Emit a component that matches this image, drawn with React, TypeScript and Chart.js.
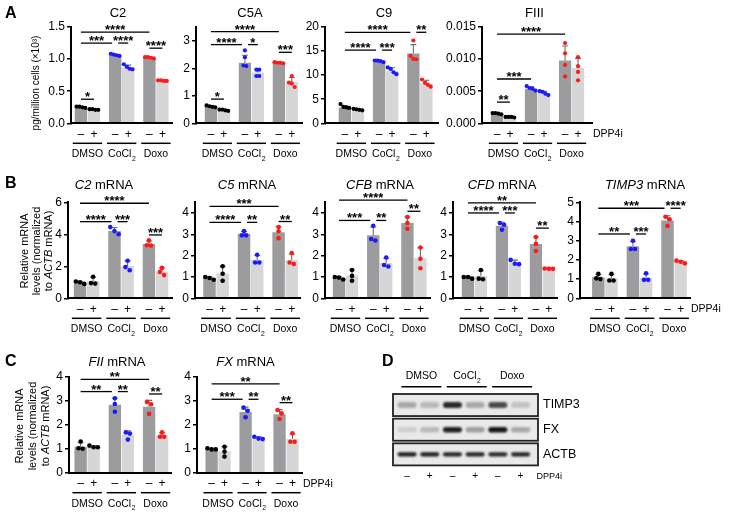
import React, { useEffect, useRef } from 'react';
import { Chart, registerables } from 'chart.js';

Chart.register(...registerables);

const W = 731;
const H = 518;
const FONT_FAMILY = '"Liberation Sans", Arial, Helvetica, sans-serif';

// ---------- shared labels ----------
const GROUP_NAMES = ['DMSO', 'CoCl', 'Doxo'];
const GROUP_SUBSCRIPTS = ['', '2', ''];
const TREATMENT_SIGNS = ['–', '+'];
const DRUG_LABEL = 'DPP4i';
const GROUP_POINT_COLORS = ['#000000', '#1a1aff', '#ff1a1a'];
const BAR_COLORS = ['#9c9c9e', '#d6d6d6'];
const ERR_COLOR = '#6e6e6e';

// ---------- Panel A ----------
const A_C2_YTICKS = [0, 0.5, 1.0, 1.5];
const A_C2_BARS = [0.25, 0.21, 1.05, 0.87, 1.02, 0.66];
const A_C2_POINTS = [
  [0.25, 0.26, 0.24, 0.26], [0.21, 0.22, 0.21, 0.22], [1.06, 1.08, 1.07, 1.05],
  [0.92, 0.88, 0.84, 0.85], [1.02, 1.03, 1.01, 1.03], [0.66, 0.67, 0.66, 0.67],
];
const A_C2_BRACKETS = [[0, 1, 0.375, '*'], [0, 2, 1.25, '***'], [2, 3, 1.25, '****'], [4, 5, 1.17, '****'], [0, 4, 1.42, '****']];

const A_C5A_YTICKS = [0, 1, 2, 3];
const A_C5A_BARS = [0.6, 0.48, 2.2, 1.85, 2.2, 1.5];
const A_C5A_POINTS = [
  [0.65, 0.58, 0.62, 0.6], [0.5, 0.47, 0.45, 0.5], [2.65, 2.4, 2.08, 2.1],
  [1.95, 1.95, 1.72, 1.72], [2.2, 2.22, 2.18, 2.2], [1.72, 1.48, 1.32, 1.45],
];
const A_C5A_BRACKETS = [[0, 1, 0.88, '*'], [0, 2, 2.86, '****'], [2, 3, 2.86, '*'], [4, 5, 2.58, '***'], [0, 4, 3.33, '****']];

const A_C9_YTICKS = [0, 5, 10, 15, 20];
const A_C9_BARS = [3.3, 2.8, 12.6, 10.9, 14.5, 8.3];
const A_C9_POINTS = [
  [4.0, 3.4, 3.2, 3.3], [3.0, 2.7, 2.8, 2.9], [12.7, 12.9, 13.0, 13.0],
  [11.6, 11.3, 10.6, 10.2], [17.2, 14.0, 13.4, 13.3], [9.1, 8.4, 8.0, 7.6],
];
const A_C9_BRACKETS = [[0, 2, 15.2, '****'], [2, 3, 15.2, '***'], [4, 5, 18.9, '**'], [0, 4, 18.9, '****']];

const A_FIII_YTICKS = [0, 0.005, 0.01, 0.015];
const A_FIII_BARS = [0.0015, 0.001, 0.0054, 0.0047, 0.0098, 0.0086];
const A_FIII_POINTS = [
  [0.0014, 0.0015, 0.0016, 0.0016], [0.001, 0.0009, 0.001, 0.001], [0.0051, 0.0054, 0.0055, 0.0058],
  [0.0044, 0.0046, 0.0049, 0.005], [0.0125, 0.0109, 0.0091, 0.0073], [0.0103, 0.0089, 0.008, 0.0067],
];
const A_FIII_BRACKETS = [[0, 1, 0.0033, '**'], [0, 2, 0.0069, '***'], [0, 4, 0.0139, '****']];

// ---------- Panel B ----------
const B_C2_YTICKS = [0, 2, 4, 6];
const B_C2_BARS = [0.98, 1.07, 4.2, 2.02, 3.4, 1.67];
const B_C2_POINTS = [[0.9, 1.05, 1.0], [0.92, 1.35, 0.95], [4.45, 4.2, 4.0], [2.35, 1.95, 1.75], [3.62, 3.32, 3.3], [1.9, 1.65, 1.45]];
const B_C2_BRACKETS = [[0, 2, 4.79, '****'], [2, 3, 4.79, '***'], [4, 5, 3.96, '***'], [0, 4, 5.94, '****']];

const B_C5_YTICKS = [0, 1, 2, 3, 4];
const B_C5_BARS = [0.94, 1.16, 3.02, 1.8, 3.1, 1.8];
const B_C5_POINTS = [[0.87, 1.0, 0.95], [1.5, 1.15, 0.82], [2.95, 3.15, 2.95], [2.04, 1.68, 1.68], [3.34, 3.14, 2.82], [2.12, 1.61, 1.68]];
const B_C5_BRACKETS = [[0, 2, 3.56, '****'], [2, 3, 3.56, '**'], [4, 5, 3.6, '**'], [0, 4, 4.31, '***']];

const B_CFB_YTICKS = [0, 1, 2, 3, 4];
const B_CFB_BARS = [0.95, 1.07, 2.96, 1.65, 3.53, 1.88];
const B_CFB_POINTS = [[0.88, 1.0, 0.97], [1.33, 1.05, 0.82], [3.4, 2.71, 2.78], [1.91, 1.49, 1.56], [3.81, 3.53, 3.26], [2.38, 1.85, 1.41]];
const B_CFB_BRACKETS = [[0, 2, 3.65, '***'], [2, 3, 3.65, '**'], [4, 5, 4.08, '**'], [0, 4, 4.6, '****']];

const B_CFD_YTICKS = [0, 1, 2, 3, 4];
const B_CFD_BARS = [0.97, 1.05, 3.4, 1.68, 2.55, 1.39];
const B_CFD_POINTS = [[0.92, 1.0, 1.0], [0.89, 1.33, 0.92], [3.53, 3.45, 3.21], [1.8, 1.6, 1.62], [2.87, 2.55, 2.22], [1.38, 1.4, 1.38]];
const B_CFD_BRACKETS = [[0, 2, 4.0, '****'], [2, 3, 4.0, '***'], [4, 5, 3.29, '**'], [0, 4, 4.47, '**']];

const B_TIMP3_YTICKS = [0, 1, 2, 3, 4, 5];
const B_TIMP3_BARS = [1.1, 1.04, 2.71, 1.07, 4.05, 1.88];
const B_TIMP3_POINTS = [[1.04, 1.27, 1.0], [0.93, 1.27, 0.93], [3.0, 2.57, 2.57], [1.3, 0.96, 0.96], [4.25, 4.12, 3.77], [1.82, 1.96, 1.9]];
const B_TIMP3_BRACKETS = [[0, 2, 3.35, '**'], [2, 3, 3.35, '***'], [4, 5, 4.69, '****'], [0, 4, 4.69, '***']];

// ---------- Panel C ----------
const C_FII_YTICKS = [0, 1, 2, 3, 4];
const C_FII_BARS = [1.08, 1.08, 2.83, 1.58, 2.75, 1.56];
const C_FII_POINTS = [[1.0, 1.3, 1.02], [1.06, 1.13, 1.06], [3.1, 2.86, 2.54], [1.68, 1.38, 1.63], [2.95, 2.85, 2.45], [1.5, 1.68, 1.5]];
const C_FII_BRACKETS = [[0, 2, 3.38, '**'], [2, 3, 3.38, '**'], [4, 5, 3.28, '**'], [0, 4, 3.89, '**']];

const C_FX_YTICKS = [0, 1, 2, 3, 4];
const C_FX_BARS = [0.99, 0.88, 2.53, 1.44, 2.44, 1.41];
const C_FX_POINTS = [[0.97, 1.02, 0.97], [1.08, 0.88, 0.67], [2.71, 2.58, 2.31], [1.4, 1.5, 1.42], [2.61, 2.47, 2.24], [1.29, 1.64, 1.29]];
const C_FX_BRACKETS = [[0, 2, 3.06, '***'], [2, 3, 3.06, '**'], [4, 5, 2.92, '**'], [0, 4, 3.7, '**']];

// ---------- Panel D (blot band intensities, 0..1) ----------
const BLOT_PROTEINS = ['TIMP3', 'FX', 'ACTB'];
const BLOT_TIMP3 = [0.3, 0.22, 0.9, 0.3, 0.75, 0.18];
const BLOT_FX = [0.12, 0.22, 0.95, 0.35, 1.0, 0.3];
const BLOT_ACTB = [0.95, 0.95, 0.92, 0.92, 0.9, 0.92];
const BLOT_ROWS = [BLOT_TIMP3, BLOT_FX, BLOT_ACTB];

// ---------- helpers ----------
type Seg = { t: string; i?: boolean };

function fnt(size: number, italic = false, bold = false) {
  return `${italic ? 'italic ' : ''}${bold ? 'bold ' : ''}${size}px ${FONT_FAMILY}`;
}
function segsWidth(ctx: any, segs: Seg[], size: number) {
  let w = 0;
  for (const s of segs) { ctx.font = fnt(size, s.i); w += ctx.measureText(s.t).width; }
  return w;
}
function drawSegsCentered(ctx: any, segs: Seg[], cx: number, cy: number, size: number) {
  let x = cx - segsWidth(ctx, segs, size) / 2;
  ctx.textAlign = 'left';
  ctx.textBaseline = 'middle';
  for (const s of segs) { ctx.font = fnt(size, s.i); ctx.fillText(s.t, x, cy); x += ctx.measureText(s.t).width; }
}
function drawGroupLabel(ctx: any, g: number, cx: number, cy: number, size: number) {
  ctx.font = fnt(size);
  const wm = ctx.measureText(GROUP_NAMES[g]).width;
  ctx.font = fnt(size * 0.65);
  const ws = GROUP_SUBSCRIPTS[g] ? ctx.measureText(GROUP_SUBSCRIPTS[g]).width : 0;
  const x0 = cx - (wm + ws) / 2;
  ctx.textAlign = 'left';
  ctx.textBaseline = 'middle';
  ctx.font = fnt(size);
  ctx.fillText(GROUP_NAMES[g], x0, cy);
  if (GROUP_SUBSCRIPTS[g]) { ctx.font = fnt(size * 0.65); ctx.fillText(GROUP_SUBSCRIPTS[g], x0 + wm + 0.5, cy + size * 0.42); }
}
function hline(ctx: any, x1: number, x2: number, y: number, lw: number) {
  ctx.lineWidth = lw;
  ctx.beginPath(); ctx.moveTo(x1, y); ctx.lineTo(x2, y); ctx.stroke();
}

interface PanelCfg {
  axisLeft: number; axisRight: number; top: number; bottom: number;
  xMin: number; xMax: number; yMax: number; yTicks: number[]; decimals: number;
  bars: number[]; points: number[][]; brackets: any[];
  title: Seg[]; titleX: number; titleY: number;
  yLabel?: Seg[][]; yLabelX?: number[]; yLabelY?: number; yLabelSize?: number;
  letter?: [string, number, number];
  drug?: boolean;
  dotR: number; dotGap: number;
}

const YW = 40;

function panelPlugin(cfg: PanelCfg) {
  const geom = (chart: any, k: number) => {
    const el: any = chart.getDatasetMeta(k % 2).data[Math.floor(k / 2)];
    return { x: el.x as number, w: el.width as number };
  };
  return {
    id: 'panelDecor',
    afterDatasetsDraw(chart: any) {
      const ctx = chart.ctx;
      const ys = chart.scales.y;
      ctx.save();
      for (let k = 0; k < cfg.bars.length; k++) {
        const { x } = geom(chart, k);
        const pts = cfg.points[k];
        const m = pts.reduce((a, b) => a + b, 0) / pts.length;
        const sd = Math.sqrt(pts.reduce((a, b) => a + (b - m) * (b - m), 0) / (pts.length - 1));
        const y0 = ys.getPixelForValue(cfg.bars[k]);
        const y1 = ys.getPixelForValue(cfg.bars[k] + sd);
        ctx.strokeStyle = ERR_COLOR;
        ctx.lineWidth = 1.1;
        ctx.beginPath(); ctx.moveTo(x, y0); ctx.lineTo(x, y1); ctx.moveTo(x - 3, y1); ctx.lineTo(x + 3, y1); ctx.stroke();
        const py = pts.map((v) => ys.getPixelForValue(v));
        const order = py.map((_, i) => i).sort((a, b) => py[a] - py[b]);
        const clusters: number[][] = [];
        for (const i of order) {
          const last = clusters[clusters.length - 1];
          if (last && py[i] - py[last[last.length - 1]] < 4) last.push(i); else clusters.push([i]);
        }
        ctx.fillStyle = GROUP_POINT_COLORS[Math.floor(k / 2)];
        for (const c of clusters) {
          c.forEach((i, j) => {
            const dx = (j - (c.length - 1) / 2) * cfg.dotGap;
            ctx.beginPath(); ctx.arc(x + dx, py[i], cfg.dotR, 0, Math.PI * 2); ctx.fill();
          });
        }
      }
      ctx.restore();
    },
    afterDraw(chart: any) {
      const ctx = chart.ctx;
      const ys = chart.scales.y;
      const area = chart.chartArea;
      ctx.save();
      ctx.fillStyle = '#000';
      ctx.strokeStyle = '#000';
      const tol = cfg.yMax * 0.01;
      for (const br of cfg.brackets) {
        const [a, b, v, label] = br;
        const y = ys.getPixelForValue(v);
        let x1 = geom(chart, a).x;
        let x2 = geom(chart, b).x;
        const shares = (k: number) => cfg.brackets.some((o: any) => o !== br && Math.abs(o[2] - v) < tol && (o[0] === k || o[1] === k));
        if (shares(a)) x1 += 3;
        if (shares(b)) x2 -= 3;
        hline(ctx, x1, x2, y, 1.3);
        ctx.font = fnt(13, false, true);
        ctx.textAlign = 'center';
        ctx.textBaseline = 'alphabetic';
        ctx.fillText(label, (x1 + x2) / 2, y + 2);
      }
      for (let k = 0; k < cfg.bars.length; k++) {
        const { x } = geom(chart, k);
        ctx.font = fnt(12);
        ctx.textAlign = 'center';
        ctx.textBaseline = 'middle';
        ctx.fillText(TREATMENT_SIGNS[k % 2], x, area.bottom + 11);
      }
      for (let g = 0; g < GROUP_NAMES.length; g++) {
        const l = geom(chart, 2 * g);
        const r = geom(chart, 2 * g + 1);
        hline(ctx, l.x - l.w / 2 - 2, r.x + r.w / 2 + 2, area.bottom + 20, 1.5);
        drawGroupLabel(ctx, g, (l.x + r.x) / 2, area.bottom + 31, 10.5);
      }
      if (cfg.drug) {
        ctx.font = fnt(10.5);
        ctx.textAlign = 'left';
        ctx.textBaseline = 'middle';
        ctx.fillText(DRUG_LABEL, area.right + 1, area.bottom + 11);
      }
      drawSegsCentered(ctx, cfg.title, cfg.titleX, cfg.titleY, 13);
      if (cfg.yLabel && cfg.yLabelX) {
        cfg.yLabel.forEach((line, i) => {
          ctx.save();
          ctx.translate(cfg.yLabelX![i], cfg.yLabelY!);
          ctx.rotate(-Math.PI / 2);
          drawSegsCentered(ctx, line, 0, 0, cfg.yLabelSize || 11);
          ctx.restore();
        });
      }
      if (cfg.letter) {
        ctx.font = fnt(16, false, true);
        ctx.textAlign = 'left';
        ctx.textBaseline = 'middle';
        ctx.fillText(cfg.letter[0], cfg.letter[1], cfg.letter[2]);
      }
      ctx.restore();
    },
  };
}

function makePanel(canvas: HTMLCanvasElement, cfg: PanelCfg) {
  return new Chart(canvas, {
    type: 'bar',
    data: {
      datasets: [0, 1].map((t) => ({
        data: GROUP_NAMES.map((_, g) => ({ x: g, y: cfg.bars[g * 2 + t] })),
        backgroundColor: BAR_COLORS[t],
        borderWidth: 0,
        categoryPercentage: 0.76,
        barPercentage: 0.95,
      })),
    } as any,
    options: {
      responsive: false,
      animation: false,
      devicePixelRatio: 1,
      events: [],
      layout: { padding: { left: cfg.axisLeft - YW, right: W - cfg.axisRight, top: cfg.top, bottom: H - cfg.bottom } },
      plugins: { legend: { display: false }, tooltip: { enabled: false }, title: { display: false } },
      scales: {
        x: {
          type: 'linear', min: cfg.xMin, max: cfg.xMax, offset: false, bounds: 'data',
          grid: { display: false }, ticks: { display: false },
          border: { display: true, color: '#000', width: 2, z: 1 },
          afterBuildTicks: (s: any) => { s.ticks = GROUP_NAMES.map((_, g) => ({ value: g })); },
          afterFit: (s: any) => { s.height = 0; },
        },
        y: {
          type: 'linear', min: 0, max: cfg.yMax, bounds: 'data',
          afterBuildTicks: (s: any) => { s.ticks = cfg.yTicks.map((v) => ({ value: v })); },
          ticks: {
            callback: (v: any) => Number(v).toFixed(cfg.decimals),
            font: { family: FONT_FAMILY, size: 12 }, color: '#000', padding: 2,
          },
          grid: { drawOnChartArea: false, drawTicks: true, tickLength: 4, color: '#000', lineWidth: 1.5 },
          border: { display: true, color: '#000', width: 2, z: 1 },
          afterFit: (s: any) => { s.width = YW; },
        },
      },
    } as any,
    plugins: [panelPlugin(cfg) as any],
  });
}

const blotPlugin = {
  id: 'blotDecor',
  afterDraw(chart: any) {
    const ctx = chart.ctx;
    const xs = chart.scales.x;
    const ys = chart.scales.y;
    const a = chart.chartArea;
    ctx.save();
    ctx.fillStyle = '#000';
    ctx.strokeStyle = '#000';
    ctx.font = fnt(16, false, true);
    ctx.textAlign = 'left';
    ctx.textBaseline = 'middle';
    ctx.fillText('D', 382, 362);
    for (let g = 0; g < GROUP_NAMES.length; g++) {
      const c = (xs.getPixelForValue(2 * g) + xs.getPixelForValue(2 * g + 1)) / 2 + 3;
      drawGroupLabel(ctx, g, c, 376.5, 10.5);
      hline(ctx, c - 20, c + 20, 386.7, 1.5);
    }
    const bandH = [6, 5.5, 4.2];
    BLOT_ROWS.forEach((vals, r) => {
      const yTop = ys.getPixelForValue(r) + 1.3;
      const yBot = ys.getPixelForValue(r + 1) - 1.3;
      const cy = (yTop + yBot) / 2;
      ctx.fillStyle = '#e9e9e9';
      ctx.fillRect(a.left, yTop, a.right - a.left, yBot - yTop);
      vals.forEach((v, l) => {
        const cx = xs.getPixelForValue(l);
        const h = bandH[r];
        ctx.save();
        ctx.filter = 'blur(1.2px)';
        ctx.fillStyle = `rgba(20,20,20,${v})`;
        ctx.beginPath();
        if (ctx.roundRect) ctx.roundRect(cx - 9.5, cy - h / 2, 19, h, h / 2); else ctx.rect(cx - 9.5, cy - h / 2, 19, h);
        ctx.fill();
        ctx.restore();
      });
      ctx.strokeStyle = '#222';
      ctx.lineWidth = 1.8;
      ctx.strokeRect(a.left, yTop, a.right - a.left, yBot - yTop);
      ctx.fillStyle = '#000';
      ctx.font = fnt(12.5);
      ctx.textAlign = 'left';
      ctx.textBaseline = 'middle';
      ctx.fillText(BLOT_PROTEINS[r], a.right + 5, cy);
    });
    for (let l = 0; l < 6; l++) {
      ctx.font = fnt(10);
      ctx.textAlign = 'center';
      ctx.fillText(TREATMENT_SIGNS[l % 2], xs.getPixelForValue(l), 476.7);
    }
    ctx.font = fnt(9);
    ctx.textAlign = 'left';
    ctx.fillText(DRUG_LABEL, 536.5, 476.7);
    ctx.restore();
  },
};

function makeBlot(canvas: HTMLCanvasElement) {
  return new Chart(canvas, {
    type: 'scatter',
    data: { datasets: [{ data: [] }] },
    options: {
      responsive: false,
      animation: false,
      devicePixelRatio: 1,
      events: [],
      layout: { padding: { left: 393, right: W - 538, top: 392.7, bottom: H - 466.7 } },
      plugins: { legend: { display: false }, tooltip: { enabled: false } },
      scales: {
        x: { type: 'linear', min: -0.62, max: 5.77, display: false },
        y: { type: 'linear', min: 0, max: 3, reverse: true, display: false },
      },
    } as any,
    plugins: [blotPlugin as any],
  });
}

const MRNA_YLABEL: Seg[][] = [[{ t: 'Relative mRNA' }], [{ t: 'levels (normalized' }], [{ t: 'to ' }, { t: 'ACTB', i: true }, { t: ' mRNA)' }]];

const A_TOP = 27, A_BOT = 123.3;
const B_TOP = 202.3, B_BOT = 298.3;
const C_TOP = 376.7, C_BOT = 472.7;
const A_DOT = { dotR: 2.1, dotGap: 2.9 };
const BC_DOT = { dotR: 2.3, dotGap: 4.2 };

const PANELS: PanelCfg[] = [
  {
    axisLeft: 71, axisRight: 172, top: A_TOP, bottom: A_BOT, xMin: -0.48, xMax: 2.47, yMax: 1.5, yTicks: A_C2_YTICKS, decimals: 1,
    bars: A_C2_BARS, points: A_C2_POINTS, brackets: A_C2_BRACKETS, title: [{ t: 'C2' }], titleX: 118, titleY: 13,
    yLabel: [[{ t: 'pg/million cells (×10³)' }]], yLabelX: [36], yLabelY: 83, yLabelSize: 10, letter: ['A', 5, 13.5], ...A_DOT,
  },
  {
    axisLeft: 196, axisRight: 302, top: A_TOP, bottom: A_BOT, xMin: -0.63, xMax: 2.49, yMax: 3.5, yTicks: A_C5A_YTICKS, decimals: 0,
    bars: A_C5A_BARS, points: A_C5A_POINTS, brackets: A_C5A_BRACKETS, title: [{ t: 'C5A' }], titleX: 250, titleY: 13, ...A_DOT,
  },
  {
    axisLeft: 325, axisRight: 438, top: A_TOP, bottom: A_BOT, xMin: -0.77, xMax: 2.53, yMax: 20, yTicks: A_C9_YTICKS, decimals: 0,
    bars: A_C9_BARS, points: A_C9_POINTS, brackets: A_C9_BRACKETS, title: [{ t: 'C9' }], titleX: 384, titleY: 13, ...A_DOT,
  },
  {
    axisLeft: 482, axisRight: 592, top: A_TOP, bottom: A_BOT, xMin: -0.63, xMax: 2.6, yMax: 0.015, yTicks: A_FIII_YTICKS, decimals: 3,
    bars: A_FIII_BARS, points: A_FIII_POINTS, brackets: A_FIII_BRACKETS, title: [{ t: 'FIII' }], titleX: 534.5, titleY: 13, drug: true, ...A_DOT,
  },
  {
    axisLeft: 68, axisRight: 172, top: B_TOP, bottom: B_BOT, xMin: -0.54, xMax: 2.48, yMax: 6, yTicks: B_C2_YTICKS, decimals: 0,
    bars: B_C2_BARS, points: B_C2_POINTS, brackets: B_C2_BRACKETS, title: [{ t: 'C2', i: true }, { t: ' mRNA' }], titleX: 104, titleY: 185,
    yLabel: MRNA_YLABEL, yLabelX: [25, 37, 49], yLabelY: 251, yLabelSize: 11, letter: ['B', 5, 183.5], ...BC_DOT,
  },
  {
    axisLeft: 195, axisRight: 300, top: B_TOP, bottom: B_BOT, xMin: -0.61, xMax: 2.43, yMax: 4.5, yTicks: B_C5_YTICKS, decimals: 0,
    bars: B_C5_BARS, points: B_C5_POINTS, brackets: B_C5_BRACKETS, title: [{ t: 'C5', i: true }, { t: ' mRNA' }], titleX: 247, titleY: 185, ...BC_DOT,
  },
  {
    axisLeft: 325, axisRight: 430, top: B_TOP, bottom: B_BOT, xMin: -0.6, xMax: 2.47, yMax: 4.5, yTicks: B_CFB_YTICKS, decimals: 0,
    bars: B_CFB_BARS, points: B_CFB_POINTS, brackets: B_CFB_BRACKETS, title: [{ t: 'CFB', i: true }, { t: ' mRNA' }], titleX: 380, titleY: 185, ...BC_DOT,
  },
  {
    axisLeft: 453, axisRight: 557, top: B_TOP, bottom: B_BOT, xMin: -0.63, xMax: 2.43, yMax: 4.5, yTicks: B_CFD_YTICKS, decimals: 0,
    bars: B_CFD_BARS, points: B_CFD_POINTS, brackets: B_CFD_BRACKETS, title: [{ t: 'CFD', i: true }, { t: ' mRNA' }], titleX: 502, titleY: 185, ...BC_DOT,
  },
  {
    axisLeft: 580, axisRight: 690, top: B_TOP, bottom: B_BOT, xMin: -0.72, xMax: 2.46, yMax: 5, yTicks: B_TIMP3_YTICKS, decimals: 0,
    bars: B_TIMP3_BARS, points: B_TIMP3_POINTS, brackets: B_TIMP3_BRACKETS, title: [{ t: 'TIMP3', i: true }, { t: ' mRNA' }], titleX: 645, titleY: 185, drug: true, ...BC_DOT,
  },
  {
    axisLeft: 69, axisRight: 171, top: C_TOP, bottom: C_BOT, xMin: -0.53, xMax: 2.45, yMax: 4, yTicks: C_FII_YTICKS, decimals: 0,
    bars: C_FII_BARS, points: C_FII_POINTS, brackets: C_FII_BRACKETS, title: [{ t: 'FII', i: true }, { t: ' mRNA' }], titleX: 117, titleY: 362,
    yLabel: MRNA_YLABEL, yLabelX: [20, 33, 46], yLabelY: 426, yLabelSize: 11, letter: ['C', 5, 361.5], ...BC_DOT,
  },
  {
    axisLeft: 197, axisRight: 302, top: C_TOP, bottom: C_BOT, xMin: -0.62, xMax: 2.47, yMax: 4, yTicks: C_FX_YTICKS, decimals: 0,
    bars: C_FX_BARS, points: C_FX_POINTS, brackets: C_FX_BRACKETS, title: [{ t: 'FX', i: true }, { t: ' mRNA' }], titleX: 245.5, titleY: 362, drug: true, ...BC_DOT,
  },
];

function ChartCanvas({ make }: { make: (c: HTMLCanvasElement) => Chart }) {
  const ref = useRef<HTMLCanvasElement>(null);
  useEffect(() => {
    const chart = make(ref.current as HTMLCanvasElement);
    return () => chart.destroy();
  }, []);
  return <canvas ref={ref} width={W} height={H} style={{ position: 'absolute', left: 0, top: 0, width: W, height: H }} />;
}

export default function App() {
  return (
    <div style={{ position: 'absolute', left: 0, top: 0, width: W, height: H, background: '#fff', overflow: 'hidden' }}>
      {PANELS.map((cfg, i) => (
        <ChartCanvas key={i} make={(c) => makePanel(c, cfg)} />
      ))}
      <ChartCanvas make={makeBlot} />
    </div>
  );
}
